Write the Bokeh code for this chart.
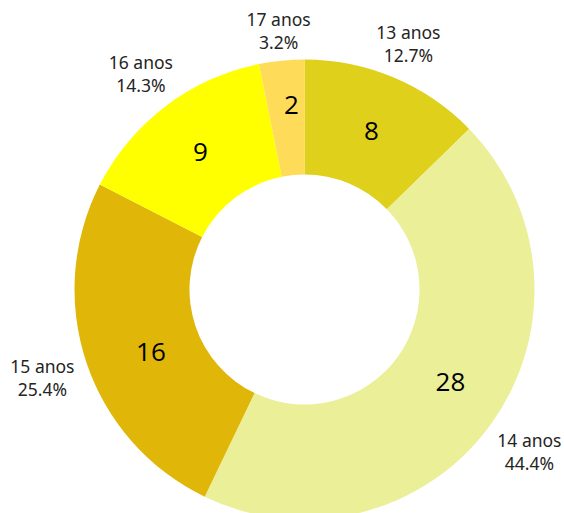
import math
from bokeh.plotting import figure
from bokeh.models import Range1d, ColumnDataSource
from bokeh.core.properties import value
from bokeh.embed import file_html
from bokeh.resources import INLINE

# ---- data ----
categories = ["13 anos", "14 anos", "15 anos", "16 anos", "17 anos"]
counts = [8, 28, 16, 9, 2]
colors = ["#DED01B", "#EBEF97", "#E0B608", "#FFFF00", "#FFDB5A"]

# ---- layout constants (pixels) ----
W, H = 564, 513
CX, CY = 304, -289          # donut centre (screen coords, y negated)
R_OUT, R_IN = 230, 115
R_NUM = 172.5
R_LAB = 272
# small placement nudges (degrees, px) to avoid crowding, as in the reference
num_nudge = [(0, 0), (-3.2, 0.5), (-3.7, -6.5), (0, 0), (1.7, 12.5)]
lab_nudge = [(0, -4.5), (0, 5), (0, 4.5), (0, -1), (0, -12)]

total = sum(counts)
starts, ends, mids = [], [], []
cum = 0
for c in counts:
    c0 = cum / total
    c1 = (cum + c) / total
    starts.append(math.pi / 2 - 2 * math.pi * c1)
    ends.append(math.pi / 2 - 2 * math.pi * c0)
    mids.append(360 * (c0 + c1) / 2)
    cum += c

p = figure(width=W, height=H, x_range=Range1d(0, W), y_range=Range1d(-H, 0),
           output_backend="svg", toolbar_location=None,
           x_axis_location=None, y_axis_location=None, min_border=0)
p.grid.visible = False
p.outline_line_color = None
p.background_fill_color = "white"
p.border_fill_color = "white"

src = ColumnDataSource(dict(start=starts, end=ends, color=colors))
p.annular_wedge(x=CX, y=CY, inner_radius=R_IN, outer_radius=R_OUT,
                start_angle="start", end_angle="end", color="color",
                line_color=None, source=src)

# inner value labels
nx, ny, nt = [], [], []
for i, c in enumerate(counts):
    a = math.radians(mids[i] + num_nudge[i][0])
    r = R_NUM + num_nudge[i][1]
    nx.append(CX + r * math.sin(a))
    ny.append(CY + r * math.cos(a))
    nt.append(str(c))
p.text(x=nx, y=ny, text=nt, text_align="center", text_baseline="middle",
       text_font=value("Open Sans"), text_font_size="26px", text_color="#000000")

# outer category / percent labels
lx, ly1, ly2, t1, t2 = [], [], [], [], []
for i, c in enumerate(counts):
    a = math.radians(mids[i] + lab_nudge[i][0])
    r = R_LAB + lab_nudge[i][1]
    x = CX + r * math.sin(a)
    y = CY + r * math.cos(a)
    lx.append(x)
    ly1.append(y + 11.5)
    ly2.append(y - 11.5)
    t1.append(categories[i])
    t2.append(f"{100 * c / total:.1f}%")
p.text(x=lx, y=ly1, text=t1, text_align="center", text_baseline="middle",
       text_font=value("Noto Sans"), text_font_size="17.5px", text_color="#252423")
p.text(x=lx, y=ly2, text=t2, text_align="center", text_baseline="middle",
       text_font=value("Noto Sans"), text_font_size="17.5px", text_color="#252423")

open("out.html", "w").write(file_html(p, INLINE))
